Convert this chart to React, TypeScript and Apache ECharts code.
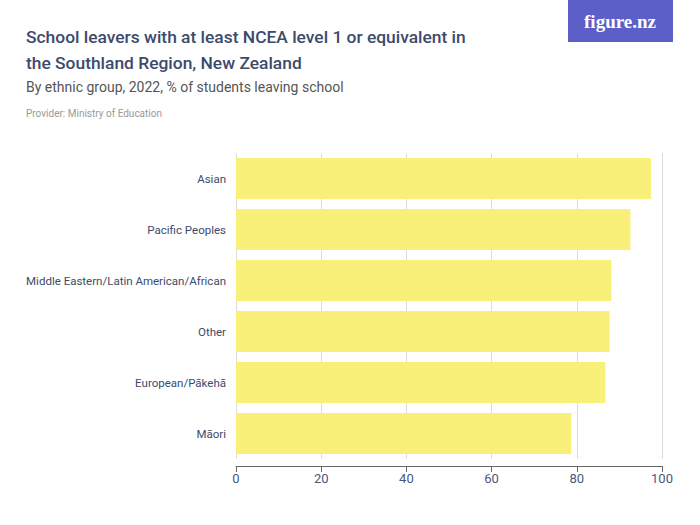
import React, { useEffect, useRef } from "react";
import * as echarts from "echarts";

const categories = [
  "Māori",
  "European/Pākehā",
  "Other",
  "Middle Eastern/Latin American/African",
  "Pacific Peoples",
  "Asian",
];
const values = [78.7, 86.7, 87.7, 88.1, 92.6, 97.4];
const xTicks = [0, 20, 40, 60, 80, 100];

const titleLines = [
  "School leavers with at least NCEA level 1 or equivalent in",
  "the Southland Region, New Zealand",
];
const subtitle = "By ethnic group, 2022, % of students leaving school";
const provider = "Provider: Ministry of Education";

export default function App() {
  const ref = useRef<HTMLDivElement>(null);
  useEffect(() => {
    document.body.style.margin = "0";
    const chart = echarts.init(ref.current!, null, { renderer: "svg" });
    const font = "Roboto, 'Noto Sans', sans-serif";
    chart.setOption({
      animation: false,
      backgroundColor: "#ffffff",
      textStyle: { fontFamily: font },
      grid: { left: 236, right: 38, top: 153, height: 306 },
      xAxis: {
        type: "value",
        min: 0,
        max: 100,
        interval: 20,
        offset: 7,
        axisLine: { show: true, lineStyle: { color: "#666", width: 1 } },
        axisTick: { show: true, length: 6, lineStyle: { color: "#666" } },
        axisLabel: {
          color: "#4a5878",
          fontSize: 13,
          margin: 6,
          fontFamily: font,
          formatter: (v: number) => (xTicks.includes(v) ? String(v) : ""),
        },
        splitLine: { show: true, lineStyle: { color: "#dcdcdc", width: 1 } },
      },
      yAxis: {
        type: "category",
        data: categories,
        axisLine: { show: false },
        axisTick: { show: false },
        axisLabel: {
          color: "#3d4a6b",
          fontSize: 11.5,
          margin: 10,
          fontFamily: font,
        },
      },
      series: [
        {
          type: "bar",
          data: values,
          barCategoryGap: "20%",
          itemStyle: { color: "#f9f07a" },
        },
      ],
      graphic: [
        {
          type: "text",
          left: 26,
          top: 24,
          style: {
            text: titleLines.join("\n"),
            fill: "#3d4a6b",
            font: `500 17.4px ${font}`,
            lineHeight: 26,
          },
        },
        {
          type: "text",
          left: 26,
          top: 80,
          style: {
            text: subtitle,
            fill: "#555555",
            font: `400 14px ${font}`,
          },
        },
        {
          type: "text",
          left: 26,
          top: 108,
          style: {
            text: provider,
            fill: "#999999",
            font: `400 10px ${font}`,
          },
        },
        {
          type: "rect",
          shape: { x: 568, y: 0, width: 105, height: 42 },
          style: { fill: "#5b5fc7" },
        },
        {
          type: "text",
          x: 620,
          y: 21,
          style: {
            text: "figure.nz",
            fill: "#ffffff",
            font: "bold 19px 'Liberation Serif', serif",
            align: "center",
            verticalAlign: "middle",
          },
        },
      ],
    });
    return () => chart.dispose();
  }, []);
  return <div ref={ref} style={{ width: 700, height: 525 }} />;
}
